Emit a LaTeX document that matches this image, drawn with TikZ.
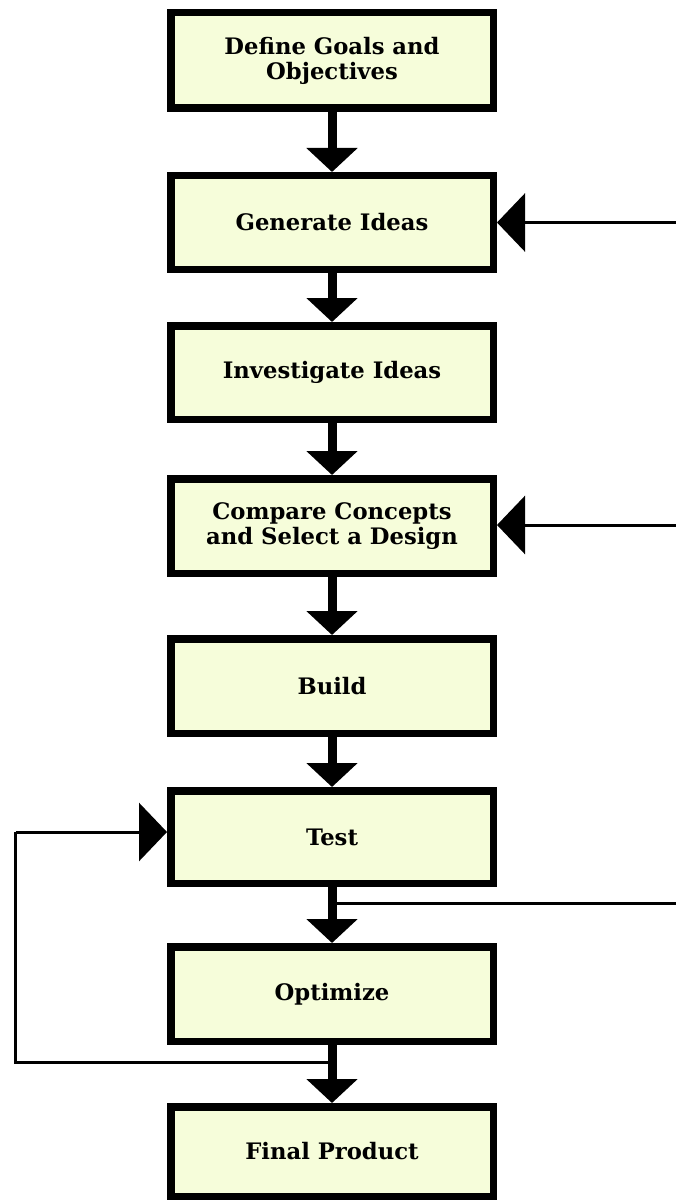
\documentclass[tikz,border=0pt]{standalone}
\usepackage{fontspec}
\setmainfont{DejaVu Serif}
\usetikzlibrary{arrows.meta}
\definecolor{boxfill}{RGB}{246,253,218}
\tikzset{
  stepbox/.style={draw=black, fill=boxfill, line width=7.5pt, rectangle,
    minimum width=322.5pt, inner sep=0pt, align=center,
    font=\fontsize{22.7}{25}\selectfont\bfseries},
  downarrow/.style={line width=9pt, -{Triangle[length=24pt,width=50pt]}},
  sidearrow/.style={line width=3pt, -{Triangle[length=28pt,width=58pt]}},
  thinline/.style={line width=3pt}
}
\begin{document}
\begin{tikzpicture}[x=1pt,y=-1pt]
\useasboundingbox (0,0) rectangle (676,1201);
\fill[white] (0,0) rectangle (676,1201);
\node[stepbox, minimum height=95.5pt] (goals) at (332,60.5) {Define Goals and\\Objectives};
\node[stepbox, minimum height=93.5pt] (gen) at (332,222.5) {Generate Ideas};
\node[stepbox, minimum height=93.5pt] (inv) at (332,372.5) {Investigate Ideas};
\node[stepbox, minimum height=94.5pt] (comp) at (332,526) {Compare Concepts\\and Select a Design};
\node[stepbox, minimum height=94.5pt] (build) at (332,686) {Build};
\node[stepbox, minimum height=92.5pt] (test) at (332,837) {Test};
\node[stepbox, minimum height=94.5pt] (opt) at (332,994) {Optimize};
\node[stepbox, minimum height=89.5pt] (final) at (332,1151.5) {Final Product};

\coordinate (ing) at (676,222.5);
\coordinate (inc) at (676,525);
\coordinate (tj) at (332,903);
\coordinate (tout) at (676,903);
\coordinate (oj) at (332,1062);
\coordinate (lb) at (15.5,1062);
\coordinate (lt) at (15.5,832);

\draw[thinline] (tj) -- (tout);
\draw[thinline, line join=miter] (oj) -- (lb) -- (lt);
\draw[sidearrow] (lt) -- ++(1.5,0) -- (test.west |- lt);
\draw[sidearrow] (ing) -- (gen.east);
\draw[sidearrow] (inc) -- (comp.east |- inc);

\draw[downarrow] (goals.south) -- (gen.north);
\draw[downarrow] (gen.south) -- (inv.north);
\draw[downarrow] (inv.south) -- (comp.north);
\draw[downarrow] (comp.south) -- (build.north);
\draw[downarrow] (build.south) -- (test.north);
\draw[downarrow] (test.south) -- (opt.north);
\draw[downarrow] (opt.south) -- (final.north);
\end{tikzpicture}
\end{document}
